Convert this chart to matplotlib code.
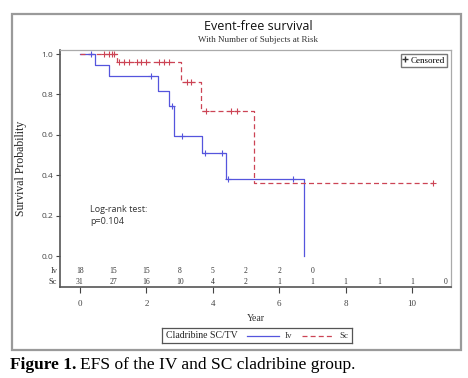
import numpy as np
import matplotlib.pyplot as plt
from matplotlib.patches import Rectangle
from matplotlib.lines import Line2D

# Kaplan-Meier steps (time in years, survival after the step)
iv_times = [0, 0.45, 0.88, 2.36, 2.69, 2.83, 3.66, 4.39, 6.76]
iv_surv = [1.0, 0.944, 0.889, 0.815, 0.741, 0.593, 0.508, 0.381, 0.0]
iv_cens_t = [0.33, 2.13, 2.77, 3.06, 3.77, 4.27, 4.47, 6.40]
iv_cens_s = [1.0, 0.889, 0.741, 0.593, 0.508, 0.508, 0.381, 0.381]

sc_times = [0, 1.12, 3.05, 3.64, 5.25]
sc_surv = [1.0, 0.962, 0.863, 0.718, 0.36]
sc_end = 10.62
sc_cens_t = [0.73, 0.89, 0.97, 1.03, 1.18, 1.33, 1.49, 1.72, 1.84, 1.98,
             2.38, 2.53, 2.67, 3.21, 3.33, 3.80, 4.56, 4.72, 10.62]
sc_cens_s = [1.0, 1.0, 1.0, 1.0, 0.962, 0.962, 0.962, 0.962, 0.962, 0.962,
             0.962, 0.962, 0.962, 0.863, 0.863, 0.718, 0.718, 0.718, 0.36]

# numbers at risk
risk_years = list(range(12))
iv_risk = [18, 15, 15, 8, 5, 2, 2, 0]
sc_risk = [31, 27, 16, 10, 4, 2, 1, 1, 1, 1, 1, 0]

blue = '#5555dd'
red = '#cc4455'
serif = 'Liberation Serif'
sans = 'Open Sans'

W, H = 468, 378
fig = plt.figure(figsize=(W / 100, H / 100), dpi=100)

def px(x0, y0, x1, y1):
    return [x0 / W, 1 - y1 / H, (x1 - x0) / W, (y1 - y0) / H]

# outer frame
fig.patches.append(Rectangle((12 / W, 1 - 350 / H), 449 / W, 336 / H,
                             transform=fig.transFigure, fill=False,
                             edgecolor='#9a9a9a', linewidth=1.6))

ax = fig.add_axes(px(60, 50, 451, 287))
ax.set_xlim(-0.6, 11.17)
ax.set_ylim(-0.153, 1.02)

# step curves
ax.step(iv_times + [iv_times[-1]], iv_surv + [iv_surv[-1]], where='post',
        color=blue, lw=0.9)
ax.step(sc_times + [sc_end], sc_surv + [sc_surv[-1]], where='post',
        color=red, lw=0.9, linestyle=(0, (4, 2.5)))
ax.plot(iv_cens_t, iv_cens_s, '+', color=blue, ms=4, mew=0.8)
ax.plot(sc_cens_t, sc_cens_s, '+', color=red, ms=4, mew=0.8)

# ticks
ax.set_xticks([0, 2, 4, 6, 8, 10])
ax.set_yticks([0.0, 0.2, 0.4, 0.6, 0.8, 1.0])
ax.set_yticklabels(['0.0', '0.2', '0.4', '0.6', '0.8', '1.0'])
ax.tick_params(axis='y', labelsize=6, colors='#444444', length=3, width=0.8, pad=2)
ax.tick_params(axis='x', labelsize=6.5, colors='#444444', length=4, width=0.8, pad=5)
for lab in ax.get_yticklabels():
    lab.set_family(sans)
for lab in ax.get_xticklabels():
    lab.set_family(serif)
for side in ['left', 'bottom']:
    ax.spines[side].set_color('#555555')
    ax.spines[side].set_linewidth(1.2)
for side in ['top', 'right']:
    ax.spines[side].set_color('#aaaaaa')
    ax.spines[side].set_linewidth(0.9)

ax.set_xlabel('Year', family=serif, fontsize=7, color='#333333', labelpad=5)
ax.set_ylabel('Survival Probability', family=serif, fontsize=8.5,
              color='#222222', labelpad=10)

# numbers at risk inside the axes
for yr, n in zip(risk_years, iv_risk):
    ax.text(yr, -0.075, str(n), ha='center', va='center', family=serif,
            fontsize=5.5, color='#333333')
for yr, n in zip(risk_years, sc_risk):
    ax.text(yr, -0.128, str(n), ha='center', va='center', family=serif,
            fontsize=5.5, color='#333333')
ax.text(-0.68, -0.075, 'Iv', ha='right', va='center', family=serif, fontsize=6,
        color='#333333', clip_on=False)
ax.text(-0.68, -0.128, 'Sc', ha='right', va='center', family=serif, fontsize=6,
        color='#333333', clip_on=False)

ax.text(0.3, 0.2, 'Log-rank test:\np=0.104', family=sans, fontsize=6.5,
        color='#333333', va='center', linespacing=1.5)

# censored legend
ax.legend([Line2D([], [], linestyle='none', marker='+', color='#333333', ms=4)],
          ['Censored'], loc='upper right', frameon=True,
          fancybox=False, edgecolor='#555555', handlelength=0.4, handletextpad=0.4,
          borderpad=0.3, borderaxespad=0.4, prop={'family': serif, 'size': 6.5})

# titles
fig.text(258 / W, 1 - 27 / H, 'Event-free survival', ha='center', va='center',
         family=sans, fontsize=9, color='#111111')
fig.text(258 / W, 1 - 40 / H, 'With Number of Subjects at Risk', ha='center',
         va='center', family=serif, fontsize=6.5, color='#333333')

# group legend at bottom
lax = fig.add_axes(px(162, 328, 352, 343))
lax.set_xlim(0, 190)
lax.set_ylim(0, 15)
lax.set_xticks([])
lax.set_yticks([])
for s in lax.spines.values():
    s.set_color('#555555')
    s.set_linewidth(0.9)
lax.text(4, 7.5, 'Cladribine SC/TV', family=serif, fontsize=7, va='center', color='#222222')
lax.plot([85, 117], [7.5, 7.5], color=blue, lw=0.9)
lax.text(123, 7.5, 'Iv', family=serif, fontsize=6.5, va='center', color='#333333')
lax.plot([140, 172], [7.5, 7.5], color=red, lw=0.9, linestyle=(0, (4, 2.5)))
lax.text(177, 7.5, 'Sc', family=serif, fontsize=6.5, va='center', color='#333333')

# caption: bold part then regular part right after it
bold = fig.text(10 / W, 1 - 365 / H, 'Figure 1.', family=serif, fontsize=12.5,
                fontweight='bold', va='center')
fig.canvas.draw()
bb = bold.get_window_extent(fig.canvas.get_renderer())
fig.text((bb.x1 + 4) / W, 1 - 365 / H, 'EFS of the IV and SC cladribine group.',
         family=serif, fontsize=12.5, va='center')

fig.savefig('out.png', dpi=100)
